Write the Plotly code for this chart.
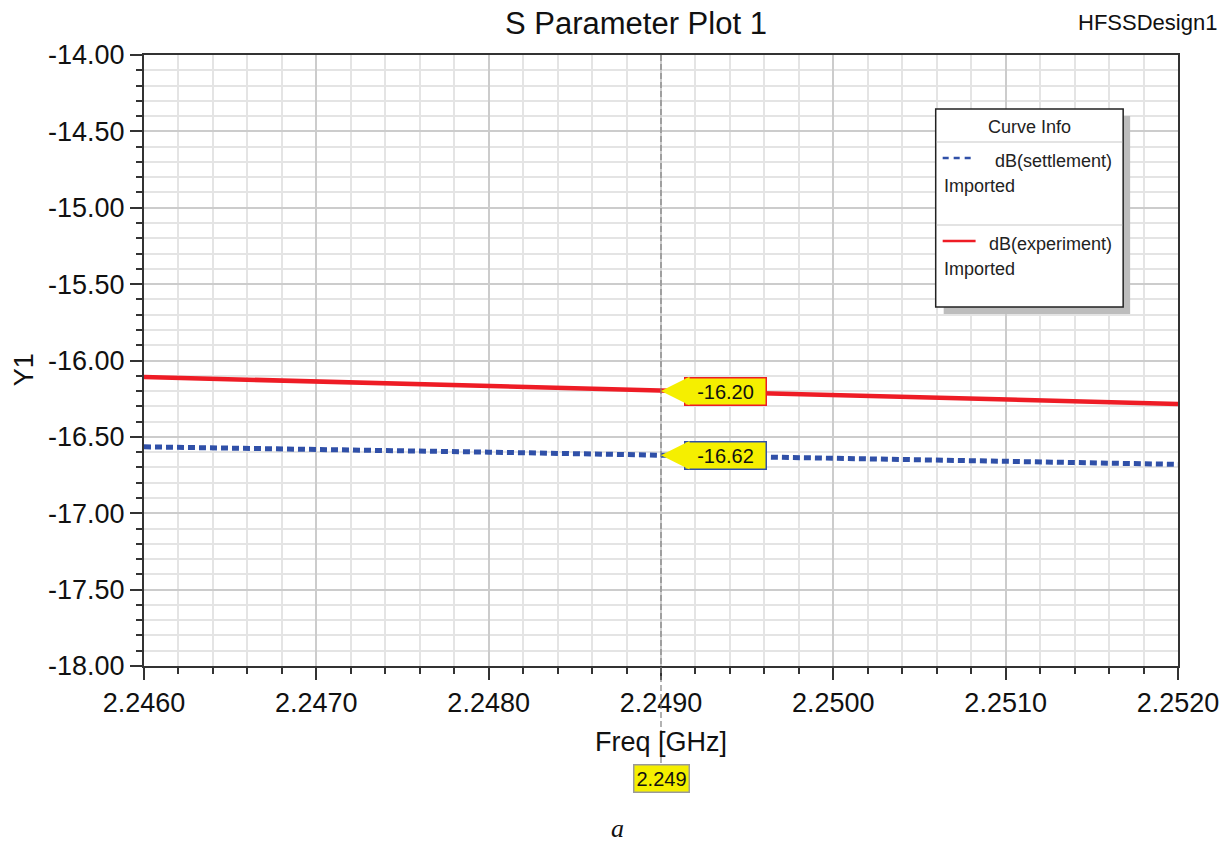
import plotly.graph_objects as go

# ---- data ----
freq_ghz = [2.2460, 2.2470, 2.2480, 2.2490, 2.2500, 2.2510, 2.2520]
db_settlement = [-16.565, -16.580, -16.600, -16.620, -16.638, -16.655, -16.680]
db_experiment = [-16.108, -16.137, -16.168, -16.200, -16.222, -16.255, -16.285]

x_ticks = [2.2460, 2.2470, 2.2480, 2.2490, 2.2500, 2.2510, 2.2520]
y_ticks = [-18.0, -17.5, -17.0, -16.5, -16.0, -15.5, -15.0, -14.5, -14.0]
x_tick_labels = [f"{v:.4f}" for v in x_ticks]
y_tick_labels = [f"{v:.2f}" for v in y_ticks]

cursor_freq = 2.249
cursor_settlement = -16.62
cursor_experiment = -16.20

FONT = "Arial, Liberation Sans, sans-serif"
RED = "#ee1c25"
BLUE = "#3050a8"
YELLOW = "#f5ef00"

fig = go.Figure()
fig.add_trace(go.Scatter(x=freq_ghz, y=db_experiment, mode="lines",
                         line=dict(color=RED, width=4.5), showlegend=False,
                         hoverinfo="skip"))
fig.add_trace(go.Scatter(x=freq_ghz, y=db_settlement, mode="lines",
                         line=dict(color=BLUE, width=5, dash="7px,4px"),
                         showlegend=False, hoverinfo="skip"))

W, H = 1231, 843
L, R, T, B = 144, 50, 55, 177
pw, ph = W - L - R, H - T - B


def px(xp):
    return (xp - L) / pw


def py(yp):
    return (H - B - yp) / ph


axis_common = dict(showline=True, linecolor="#333333", linewidth=2, mirror=True,
                   showgrid=True, gridcolor="#cccccc", gridwidth=1.5,
                   ticks="outside", ticklen=12, tickwidth=2, tickcolor="#333333",
                   tickfont=dict(family=FONT, size=27, color="#111111"),
                   zeroline=False)

fig.update_layout(
    width=W, height=H,
    margin=dict(l=L, r=R, t=T, b=B),
    paper_bgcolor="white", plot_bgcolor="white",
    showlegend=False,
    xaxis=dict(range=[2.246, 2.252], tickvals=x_ticks, ticktext=x_tick_labels,
               minor=dict(dtick=0.0002, tick0=2.246, showgrid=True, gridcolor="#e4e4e4",
                          gridwidth=1.5, ticks="outside", ticklen=6, tickwidth=1.5,
                          tickcolor="#333333"),
               **axis_common),
    yaxis=dict(range=[-18, -14], tickvals=y_ticks, ticktext=y_tick_labels,
               minor=dict(dtick=0.1, tick0=-18, showgrid=True, gridcolor="#e4e4e4",
                          gridwidth=1.5, ticks="outside", ticklen=6, tickwidth=1.5,
                          tickcolor="#333333"),
               **axis_common),
)

shapes = []
# cursor line
shapes.append(dict(type="line", xref="x", yref="paper", x0=cursor_freq, x1=cursor_freq,
                   y0=py(763), y1=1, line=dict(color="#808080", width=1.2, dash="6px,3px"),
                   layer="above"))
# legend box shadow + box
shapes.append(dict(type="rect", xref="paper", yref="paper", x0=px(946), x1=px(1133),
                   y0=py(314), y1=py(116), fillcolor="#bdbdbd", line=dict(width=0),
                   layer="above"))
shapes.append(dict(type="rect", xref="paper", yref="paper", x0=px(938), x1=px(1126),
                   y0=py(307), y1=py(109), fillcolor="white",
                   line=dict(color="#222222", width=1.5), layer="above"))
shapes.append(dict(type="line", xref="paper", yref="paper", x0=px(939), x1=px(1125),
                   y0=py(142), y1=py(142), line=dict(color="#c8c8c8", width=1.2),
                   layer="above"))
shapes.append(dict(type="line", xref="paper", yref="paper", x0=px(939), x1=px(1125),
                   y0=py(225), y1=py(225), line=dict(color="#c8c8c8", width=1.2),
                   layer="above"))
# legend samples
shapes.append(dict(type="line", xref="paper", yref="paper", x0=px(945), x1=px(974),
                   y0=py(158), y1=py(158), line=dict(color=BLUE, width=2.5, dash="6px,5px"),
                   layer="above"))
shapes.append(dict(type="line", xref="paper", yref="paper", x0=px(945), x1=px(978),
                   y0=py(241), y1=py(241), line=dict(color=RED, width=2.5),
                   layer="above"))
fig.update_layout(shapes=shapes)

ann = []
# title and design name
ann.append(dict(text="S Parameter Plot 1", xref="paper", yref="paper", x=px(637), y=py(24),
                xanchor="center", yanchor="middle", showarrow=False,
                font=dict(family=FONT, size=31, color="#111111")))
ann.append(dict(text="HFSSDesign1", xref="paper", yref="paper", x=px(1222), y=py(23),
                xanchor="right", yanchor="middle", showarrow=False,
                font=dict(family=FONT, size=22, color="#111111")))
# axis titles
ann.append(dict(text="Y1", xref="paper", yref="paper", x=px(24), y=py(370),
                xanchor="center", yanchor="middle", textangle=-90, showarrow=False,
                font=dict(family=FONT, size=27, color="#111111")))
ann.append(dict(text="Freq [GHz]", xref="paper", yref="paper", x=px(662), y=py(742),
                xanchor="center", yanchor="middle", showarrow=False,
                font=dict(family=FONT, size=27, color="#111111")))
# cursor x label
ann.append(dict(text=f"{cursor_freq:.3f}", xref="x", yref="paper", x=cursor_freq, y=py(778),
                xanchor="center", yanchor="middle", showarrow=False, bgcolor=YELLOW,
                bordercolor="#9a9a9a", borderwidth=1.5, borderpad=2,
                font=dict(family=FONT, size=20, color="#111111")))
# callouts
for val, col in [(cursor_experiment, RED), (cursor_settlement, BLUE)]:
    ann.append(dict(text=f"{val:.2f}", xref="x", yref="y", x=cursor_freq, y=val,
                    showarrow=True, ax=23, ay=0, xanchor="left", yanchor="middle",
                    arrowhead=2, arrowsize=1.9, arrowwidth=3, arrowcolor=YELLOW,
                    standoff=0, bgcolor=YELLOW, bordercolor=col, borderwidth=1.5,
                    borderpad=2, width=76, height=22,
                    font=dict(family=FONT, size=20, color="#111111")))
# legend text
ann.append(dict(text="Curve Info", xref="paper", yref="paper", x=px(1032), y=py(127),
                xanchor="center", yanchor="middle", showarrow=False,
                font=dict(family=FONT, size=18, color="#222222")))
for label, ty, iy in [("dB(settlement)", 161, 186), ("dB(experiment)", 244, 269)]:
    ann.append(dict(text=label, xref="paper", yref="paper", x=px(1117), y=py(ty),
                    xanchor="right", yanchor="middle", showarrow=False,
                    font=dict(family=FONT, size=18, color="#222222")))
    ann.append(dict(text="Imported", xref="paper", yref="paper", x=px(944), y=py(iy),
                    xanchor="left", yanchor="middle", showarrow=False,
                    font=dict(family=FONT, size=18, color="#222222")))
# figure label
ann.append(dict(text="<i>a</i>", xref="paper", yref="paper", x=px(619), y=py(828),
                xanchor="center", yanchor="middle", showarrow=False,
                font=dict(family="Liberation Serif, Times New Roman, serif", size=26,
                          color="#111111")))
fig.update_layout(annotations=ann)

fig.write_html("out.html", config={"displayModeBar": False},
               post_script="document.body.style.margin='0';document.body.style.overflow='hidden';")
